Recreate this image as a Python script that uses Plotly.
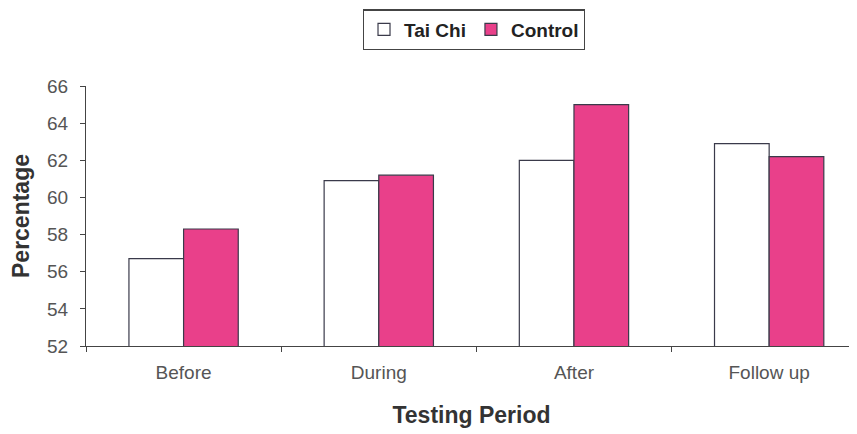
import plotly.graph_objects as go

categories = ["Before", "During", "After", "Follow up"]
tai_chi = [56.7, 60.9, 62.0, 62.9]
control = [58.3, 61.2, 65.0, 62.2]
y_ticks = [52, 54, 56, 58, 60, 62, 64, 66]

fig = go.Figure()
fig.add_trace(go.Bar(name="Tai Chi", x=categories, y=tai_chi,
                     marker=dict(color="white", line=dict(color="#3a3a4a", width=1.2))))
fig.add_trace(go.Bar(name="Control", x=categories, y=control,
                     marker=dict(color="#E9408A", line=dict(color="#3a3a4a", width=1.2))))

font_family = "Liberation Sans, Arial, sans-serif"
fig.update_layout(
    width=857, height=434,
    margin=dict(l=78, r=8, t=78, b=96, autoexpand=False),
    paper_bgcolor="white", plot_bgcolor="white",
    barmode="group", bargap=0.44, bargroupgap=0,
    font=dict(family=font_family, color="#555555", size=18),
    legend=dict(orientation="h", x=0.503, xanchor="center", y=1.295, yanchor="top",
                bordercolor="#444444", borderwidth=1.2,
                font=dict(family=font_family, size=19, color="#222222", weight="bold"),
                itemwidth=30, traceorder="normal"),
    showlegend=True,
)
fig.update_xaxes(
    range=[-0.5, 3.45], showline=True, linecolor="#444444", linewidth=1.2,
    ticks="outside", tickson="boundaries", ticklen=5, tickcolor="#444444",
    showgrid=False, tickfont=dict(size=19, color="#555555"), ticklabelstandoff=9,
    automargin=False,
    title=dict(text="Testing Period", font=dict(size=23, color="#333333", weight="bold"), standoff=24),
)
fig.update_yaxes(
    range=[52, 66], tickvals=y_ticks, showline=True, linecolor="#444444", linewidth=1.2,
    ticks="outside", ticklen=5, tickcolor="#444444", showgrid=False, zeroline=False,
    tickfont=dict(size=19, color="#555555"), ticklabelstandoff=8, automargin=False,
    title=dict(text="Percentage", font=dict(size=23, color="#333333", weight="bold"), standoff=12),
)

fig.write_html("out.html")
